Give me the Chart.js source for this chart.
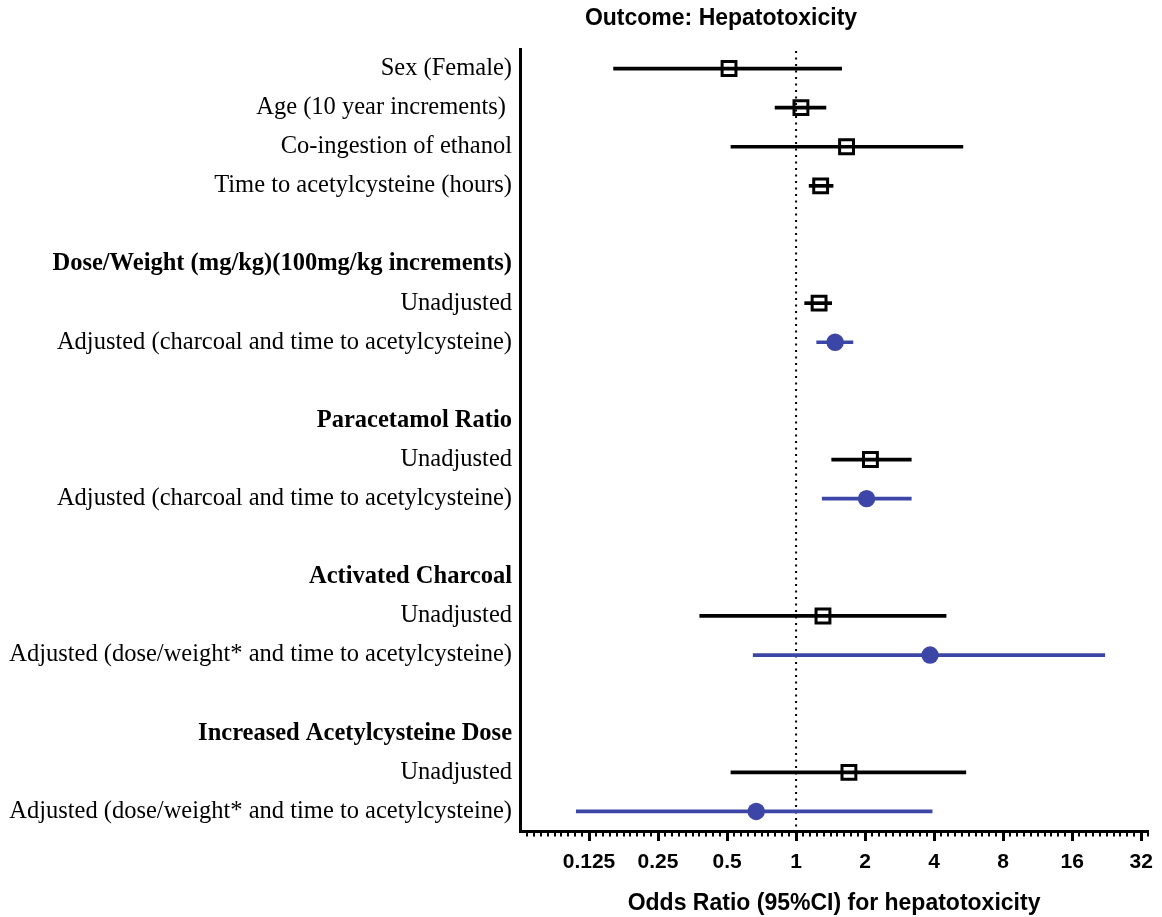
<!DOCTYPE html>
<html><head><meta charset="utf-8">
<script src="https://cdn.jsdelivr.net/npm/chart.js@4.4.0/dist/chart.umd.min.js"></script>
<style>html,body{margin:0;padding:0;background:#fff;}#wrap{width:1162px;height:917px;}</style>
</head><body><div id="wrap"><canvas id="c" width="1162" height="917"></canvas></div>
<script>
const rowLabels = [
  'Sex (Female)',
  'Age (10 year increments) ',
  'Co-ingestion of ethanol',
  'Time to acetylcysteine (hours)',
  '',
  'Dose/Weight (mg/kg)(100mg/kg increments)',
  'Unadjusted',
  'Adjusted (charcoal and time to acetylcysteine)',
  '',
  'Paracetamol Ratio',
  'Unadjusted',
  'Adjusted (charcoal and time to acetylcysteine)',
  '',
  'Activated Charcoal',
  'Unadjusted',
  'Adjusted (dose/weight* and time to acetylcysteine)',
  '',
  'Increased Acetylcysteine Dose',
  'Unadjusted',
  'Adjusted (dose/weight* and time to acetylcysteine)'
];
const boldRows = [5, 9, 13, 17];

// Unadjusted / single-variable estimates (open squares)
const squareRows = [0, 1, 2, 3, 6, 10, 14, 18];
const squareOR   = [0.51, 1.05, 1.66, 1.28, 1.26, 2.11, 1.31, 1.70];
const squareLo   = [0.16, 0.81, 0.52, 1.14, 1.09, 1.43, 0.38, 0.52];
const squareHi   = [1.58, 1.35, 5.34, 1.45, 1.43, 3.18, 4.51, 5.50];

// Adjusted estimates (blue circles)
const circleRows = [7, 11, 15, 19];
const circleOR   = [1.48, 2.03, 3.84, 0.67];
const circleLo   = [1.23, 1.30, 0.65, 0.11];
const circleHi   = [1.77, 3.18, 22.2, 3.92];

const xTicks      = [0.125, 0.25, 0.5, 1, 2, 4, 8, 16, 32];
const xTickLabels = ['0.125', '0.25', '0.5', '1', '2', '4', '8', '16', '32'];

const BLUE = '#3b46a6';

const extras = {
  id: 'extras',
  beforeDatasetsDraw(chart) {
    const {ctx, chartArea, scales: {x}} = chart;
    const px = x.getPixelForValue(1);
    ctx.save();
    ctx.strokeStyle = '#000';
    ctx.lineWidth = 2;
    ctx.setLineDash([2, 4.5]);
    ctx.beginPath();
    ctx.moveTo(px, chartArea.top + 2);
    ctx.lineTo(px, chartArea.bottom);
    ctx.stroke();
    ctx.restore();
  },
  afterDraw(chart) {
    const {ctx, chartArea, scales: {x}} = chart;
    ctx.save();
    // minor ticks (log2-evenly spaced)
    ctx.strokeStyle = '#000';
    ctx.lineWidth = 2;
    ctx.beginPath();
    for (let k = -4; k <= 5; k++) {
      for (let j = 1; j <= 9; j++) {
        const v = Math.pow(2, k + j / 10);
        if (v > x.max) continue;
        const p = Math.round(x.getPixelForValue(v));
        ctx.moveTo(p, chartArea.bottom);
        ctx.lineTo(p, chartArea.bottom + 5.5);
      }
    }
    ctx.stroke();
    // chart title
    ctx.fillStyle = '#000';
    ctx.font = 'bold 23px "Liberation Sans", Arial, sans-serif';
    ctx.textAlign = 'center';
    ctx.textBaseline = 'middle';
    ctx.fillText('Outcome: Hepatotoxicity', 721, 19);
    ctx.restore();
  }
};

new Chart(document.getElementById('c'), {
  data: {
    datasets: [
      {
        type: 'scatter',
        data: squareRows.map((r, i) => ({x: squareOR[i], y: r})),
        pointStyle: 'rect',
        pointRadius: 9.8,
        pointHoverRadius: 9.8,
        borderColor: '#000',
        backgroundColor: 'rgba(0,0,0,0)',
        borderWidth: 3,
        order: 0
      },
      {
        type: 'scatter',
        data: circleRows.map((r, i) => ({x: circleOR[i], y: r})),
        pointStyle: 'circle',
        pointRadius: 8.7,
        pointHoverRadius: 8.7,
        backgroundColor: BLUE,
        borderColor: BLUE,
        borderWidth: 0,
        order: 0
      },
      {
        type: 'bar',
        indexAxis: 'y',
        data: squareRows.map((r, i) => ({y: r, x: [squareLo[i], squareHi[i]]})),
        backgroundColor: '#000',
        barThickness: 3,
        grouped: false,
        order: 1
      },
      {
        type: 'bar',
        indexAxis: 'y',
        data: circleRows.map((r, i) => ({y: r, x: [circleLo[i], circleHi[i]]})),
        backgroundColor: BLUE,
        barThickness: 3,
        grouped: false,
        order: 1
      }
    ]
  },
  options: {
    responsive: false,
    devicePixelRatio: 1,
    animation: false,
    layout: {padding: {top: 49, right: 10, left: 0, bottom: 0}},
    plugins: {legend: {display: false}, tooltip: {enabled: false}},
    scales: {
      x: {
        type: 'logarithmic',
        position: 'bottom',
        min: 0.0625,
        max: 34.3,
        afterBuildTicks: (s) => { s.ticks = xTicks.map(v => ({value: v, major: true})); },
        afterFit: (s) => { s.height = 86; },
        ticks: {
          autoSkip: false,
          maxRotation: 0,
          padding: 9,
          color: '#000',
          font: {family: '"Liberation Sans", Arial, sans-serif', size: 21, weight: 'bold'},
          callback: (v, i) => xTickLabels[i]
        },
        grid: {drawOnChartArea: false, tickLength: 10, tickWidth: 3, tickColor: '#000'},
        border: {display: true, color: '#000', width: 3},
        title: {
          display: true,
          text: 'Odds Ratio (95%CI) for hepatotoxicity',
          color: '#000',
          font: {family: '"Liberation Sans", Arial, sans-serif', size: 23, weight: 'bold'},
          padding: {top: 4, bottom: 0}
        }
      },
      y: {
        type: 'linear',
        reverse: true,
        offset: false,
        min: -0.5,
        max: 19.5,
        afterBuildTicks: (s) => { s.ticks = rowLabels.map((_, i) => ({value: i})); },
        afterFit: (s) => { s.width = 520; },
        ticks: {
          autoSkip: false,
          padding: 8,
          color: '#000',
          font: (ctx) => ({
            family: '"Liberation Serif", "Times New Roman", serif',
            size: 24.5,
            weight: (ctx.tick && boldRows.includes(ctx.tick.value)) ? 'bold' : 'normal'
          }),
          callback: (v) => rowLabels[v]
        },
        grid: {display: false, drawTicks: false},
        border: {display: true, color: '#000', width: 3}
      }
    }
  },
  plugins: [extras]
});
</script>
</body></html>
